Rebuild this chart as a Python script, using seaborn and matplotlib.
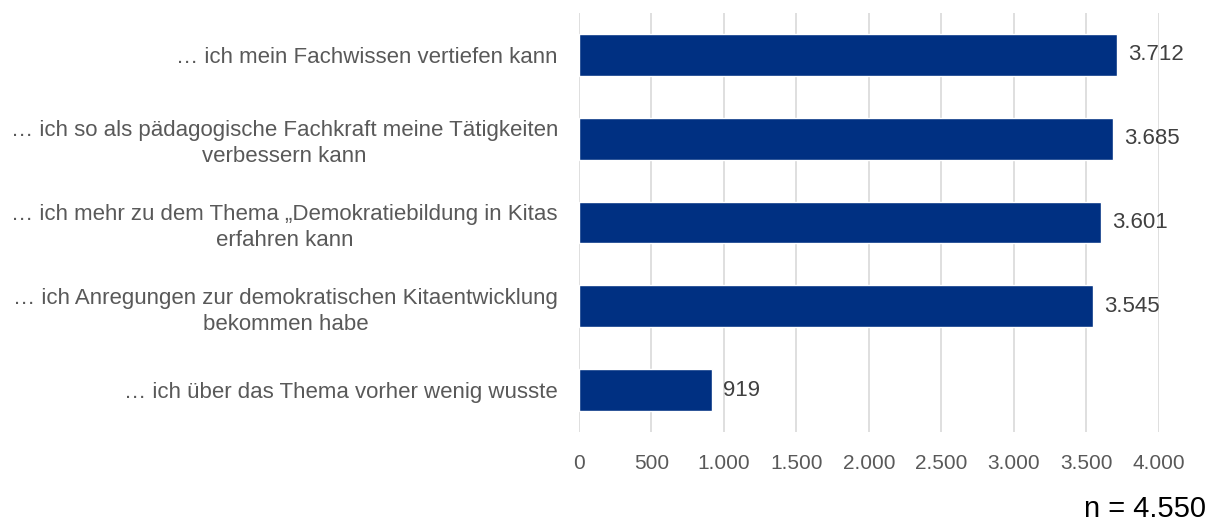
import matplotlib
matplotlib.use("Agg")
import matplotlib.pyplot as plt
import seaborn as sns
import pandas as pd
from matplotlib.ticker import FuncFormatter

categories = [
    "… ich mein Fachwissen vertiefen kann",
    "… ich so als pädagogische Fachkraft meine Tätigkeiten\nverbessern kann",
    "… ich mehr zu dem Thema „Demokratiebildung in Kitas\nerfahren kann",
    "… ich Anregungen zur demokratischen Kitaentwicklung\nbekommen habe",
    "… ich über das Thema vorher wenig wusste",
]
values = [3712, 3685, 3601, 3545, 919]
xticks = [0, 500, 1000, 1500, 2000, 2500, 3000, 3500, 4000]
note = "n = 4.550"

def de(v):
    return f"{int(v):,}".replace(",", ".")

sns.set_theme(style="white")
plt.rcParams['font.family'] = ['Liberation Sans', 'DejaVu Sans']

df = pd.DataFrame({"cat": categories, "val": values})
fig = plt.figure(figsize=(12.16, 5.21), dpi=100)
ax = fig.add_axes([0.476, 0.171, 0.477, 0.804])
sns.barplot(data=df, y="cat", x="val", orient="h", color="#003082",
            saturation=1, width=0.5, ax=ax)
ax.set_xlim(0, 4000)
ax.set_ylim(4.5, -0.5)
ax.set_xticks(xticks)
ax.xaxis.set_major_formatter(FuncFormatter(lambda v, p: de(v)))
ax.grid(axis="x", color="#d9d9d9", linewidth=1.2)
ax.set_axisbelow(True)
for s in ax.spines.values():
    s.set_visible(False)
ax.set_xlabel("")
ax.set_ylabel("")
ax.tick_params(axis="both", length=0, colors="#595959")
ax.tick_params(axis="x", pad=16, labelsize=15)
ax.tick_params(axis="y", pad=15, labelsize=16)
for lab in ax.get_yticklabels():
    lab.set_multialignment("center")
    lab.set_linespacing(1.3)
for i, v in enumerate(values):
    ax.text(v + 76, i, de(v), va="center", ha="left", fontsize=16, color="#404040")
fig.text(0.992, 0.008, note, ha="right", va="baseline", fontsize=21, color="black")
fig.savefig("out.png", dpi=100)
